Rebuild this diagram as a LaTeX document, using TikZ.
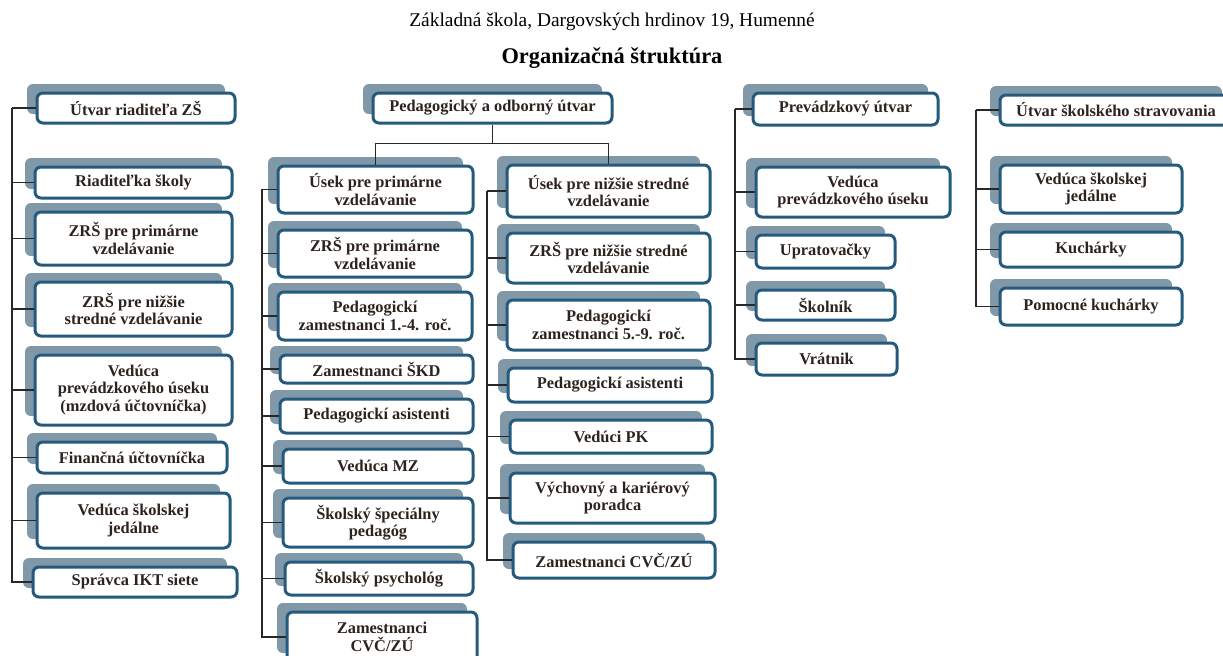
\documentclass[tikz,border=0pt]{standalone}
\usepackage{fontspec}
\setmainfont{Liberation Serif}
\usetikzlibrary{shadows}
\definecolor{bordercol}{RGB}{36,90,126}
\definecolor{shadowcol}{RGB}{128,152,168}
\definecolor{txtcol}{RGB}{45,35,30}
\definecolor{linecol}{RGB}{40,40,40}
\tikzset{
  bx/.style={draw=bordercol, line width=1.5pt, fill=white, rounded corners=3pt,
    align=center, inner sep=1pt, text=txtcol,
    font=\bfseries\fontsize{8.2}{8.6}\selectfont,
    general shadow={fill=shadowcol, shadow xshift=-5pt, shadow yshift=4.5pt}},
  conn/.style={draw=linecol, line width=0.75pt},
}
\newcommand\bx[6]{%
  \pgfmathsetmacro\bxw{(#4-#2)*0.5}%
  \pgfmathsetmacro\bxh{(#5-#3)*0.5}%
  \node[bx, minimum width=\bxw pt, minimum height=\bxh pt] (#1) at ({(#2+#4)/2},{(#3+#5)/2}) {#6};}
\begin{document}
\begin{tikzpicture}[x=0.5pt,y=-0.5pt]
\useasboundingbox (0,0) rectangle (1223,655);
\clip (0,0) rectangle (1223,655);
\fill[white] (0,0) rectangle (1223,655);

\node[font=\fontsize{9.7}{11}\selectfont, text=black] (sub) at (612,22) {Základná škola, Dargovských hrdinov 19, Humenné};
\node[font=\bfseries\fontsize{11.2}{13}\selectfont, text=black] (title) at (612,58) {Organizačná štruktúra};

% column 1
\bx{a1}{37}{93}{235}{123}{Útvar riaditeľa ZŠ}
\bx{a2}{35}{167}{232}{198}{Riaditeľka školy}
\bx{a3}{35}{212}{232}{265}{ZRŠ pre primárne\\vzdelávanie}
\bx{a4}{35}{282}{232}{336}{ZRŠ pre nižšie\\stredné vzdelávanie}
\bx{a5}{35}{355}{232}{425}{Vedúca\\prevádzkového úseku\\(mzdová účtovníčka)}
\bx{a6}{37}{442}{227}{473}{Finančná účtovníčka}
\bx{a7}{37}{493}{230}{548}{Vedúca školskej\\jedálne}
\bx{a8}{33}{567}{237}{597}{Správca IKT siete}

% column 2
\bx{p0}{373}{93}{612}{123}{Pedagogický a odborný útvar}
\bx{b1}{278}{166}{473}{213}{Úsek pre primárne\\vzdelávanie}
\bx{b2}{278}{230}{472}{277}{ZRŠ pre primárne\\vzdelávanie}
\bx{b3}{278}{292}{472}{340}{Pedagogickí\\zamestnanci 1.-4. roč.}
\bx{b4}{280}{355}{473}{383}{Zamestnanci ŠKD}
\bx{b5}{280}{399}{473}{433}{Pedagogickí asistenti}
\bx{b6}{283}{449}{473}{483}{Vedúca MZ}
\bx{b7}{283}{498}{473}{547}{Školský špeciálny\\pedagóg}
\bx{b8}{285}{562}{473}{595}{Školský psychológ}
\bx{b9}{287}{612}{477}{662}{Zamestnanci\\CVČ/ZÚ}

\bx{c1}{507}{165}{710}{217}{Úsek pre nižšie stredné\\vzdelávanie}
\bx{c2}{507}{233}{710}{283}{ZRŠ pre nižšie stredné\\vzdelávanie}
\bx{c3}{507}{300}{710}{350}{Pedagogickí\\zamestnanci 5.-9. roč.}
\bx{c4}{508}{368}{712}{402}{Pedagogickí asistenti}
\bx{c5}{510}{420}{712}{453}{Vedúci PK}
\bx{c6}{510}{473}{715}{523}{Výchovný a kariérový\\poradca}
\bx{c7}{513}{542}{715}{578}{Zamestnanci CVČ/ZÚ}

% column 3
\bx{d0}{753}{93}{938}{125}{Prevádzkový útvar}
\bx{d1}{756}{167}{950}{217}{Vedúca\\prevádzkového úseku}
\bx{d2}{756}{235}{895}{268}{Upratovačky}
\bx{d3}{756}{290}{895}{320}{Školník}
\bx{d4}{756}{343}{897}{375}{Vrátnik}

% column 4
\bx{e0}{1000}{95}{1232}{125}{Útvar školského stravovania}
\bx{e1}{1000}{165}{1182}{213}{Vedúca školskej\\jedálne}
\bx{e2}{1000}{232}{1182}{267}{Kuchárky}
\bx{e3}{1000}{288}{1182}{325}{Pomocné kuchárky}

% connectors
\coordinate (L1) at (12,108);
\foreach \n in {a1,a2,a3,a4,a5,a6,a7,a8} \draw[conn] (L1) |- (\n.west);
\draw[conn] (p0.south) -- ++(0,19) coordinate (pj);
\draw[conn] (pj) -| (b1.north);
\draw[conn] (pj) -| (c1.north);
\coordinate (L2) at (262,190);
\foreach \n in {b1,b2,b3,b4,b5,b6,b7,b8,b9} \draw[conn] (L2) |- (\n.west);
\coordinate (L3) at (487,191);
\foreach \n in {c1,c2,c3,c4,c5,c6,c7} \draw[conn] (L3) |- (\n.west);
\coordinate (L4) at (735,109);
\foreach \n in {d0,d1,d2,d3,d4} \draw[conn] (L4) |- (\n.west);
\coordinate (L5) at (976,110);
\foreach \n in {e0,e1,e2,e3} \draw[conn] (L5) |- (\n.west);
\end{tikzpicture}
\end{document}
